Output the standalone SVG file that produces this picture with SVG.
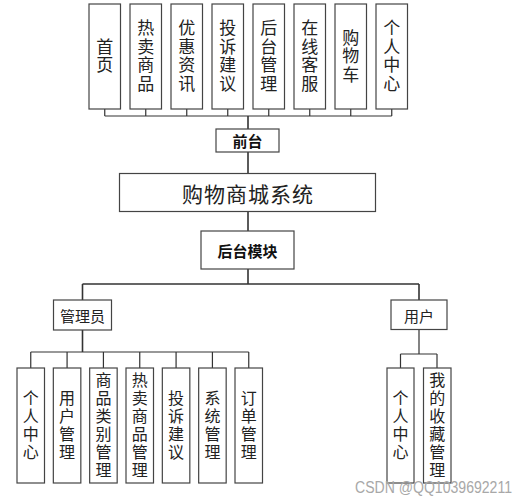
<svg xmlns="http://www.w3.org/2000/svg" width="524" height="500" viewBox="0 0 524 500">
<style>
.box{fill:#fff;stroke:#444;stroke-width:1.2}
.ln{fill:none;stroke:#333;stroke-width:1.2}
.v{font-family:"Noto Sans CJK SC","Noto Sans",sans-serif;font-size:17px;fill:#222;text-anchor:middle;writing-mode:vertical-rl;letter-spacing:1.5px}
.vb{font-family:"Noto Sans CJK SC","Noto Sans",sans-serif;font-size:16px;fill:#222;text-anchor:middle;writing-mode:vertical-rl;letter-spacing:2px}
.b{font-family:"Noto Sans CJK SC","Noto Sans",sans-serif;font-size:15px;font-weight:bold;fill:#111;text-anchor:middle;dominant-baseline:central}
.m{font-family:"Noto Sans CJK SC","Noto Sans",sans-serif;font-size:15px;fill:#222;text-anchor:middle;dominant-baseline:central}
.t{font-family:"Noto Sans CJK SC","Noto Sans",sans-serif;font-size:21px;fill:#222;text-anchor:middle;dominant-baseline:central;letter-spacing:1px}
</style>
<rect width="524" height="500" fill="#fff"/>
<g id="connectors">
<path class="ln" d="M104.75 109V116M145.75 109V116M186.75 109V116M227.75 109V116M268.75 109V116M309.75 109V116M350.75 109V116M391.75 109V116M104.75 116H391.75"/>
<path class="ln" d="M248 116V129M248 152V173M248 212V231M248 269V284M82.5 284H419M82.5 284V300M419 284V300" style="stroke-width:1.6"/>
<path class="ln" d="M30.75 352H248.75M30.75 352V368M67.08 352V368M103.42 352V368M139.75 352V368M176.08 352V368M212.42 352V368M248.75 352V368"/>
<path class="ln" d="M82.5 330V352" style="stroke-width:1.6"/>
<path class="ln" d="M419 330V354M400.5 354H437M400.5 354V368M437 354V368"/>
</g>
<g id="n_shouye"><rect class="box" x="89" y="4" width="31.5" height="105"/><text class="v" x="104.75" y="56.5">首页</text></g>
<g id="n_rmsp"><rect class="box" x="130" y="4" width="31.5" height="105"/><text class="v" x="145.75" y="56.5">热卖商品</text></g>
<g id="n_yhzx"><rect class="box" x="171" y="4" width="31.5" height="105"/><text class="v" x="186.75" y="56.5">优惠资讯</text></g>
<g id="n_tsjy"><rect class="box" x="212" y="4" width="31.5" height="105"/><text class="v" x="227.75" y="56.5">投诉建议</text></g>
<g id="n_htgl"><rect class="box" x="253" y="4" width="31.5" height="105"/><text class="v" x="268.75" y="56.5">后台管理</text></g>
<g id="n_zxkf"><rect class="box" x="294" y="4" width="31.5" height="105"/><text class="v" x="309.75" y="56.5">在线客服</text></g>
<g id="n_gwc"><rect class="box" x="335" y="4" width="31.5" height="105"/><text class="v" x="350.75" y="56.5">购物车</text></g>
<g id="n_grzx_top"><rect class="box" x="376" y="4" width="31.5" height="105"/><text class="v" x="391.75" y="56.5">个人中心</text></g>
<g id="n_qiantai"><rect class="box" x="216" y="129" width="63" height="23"/><text class="b" x="247.5" y="140.5">前台</text></g>
<g id="n_system"><rect class="box" x="119.5" y="173.5" width="256" height="38"/><text class="t" x="248" y="192.5">购物商城系统</text></g>
<g id="n_houtai"><rect class="box" x="201" y="231" width="93" height="38"/><text class="b" x="247.5" y="250">后台模块</text></g>
<g id="n_admin"><rect class="box" x="53.5" y="300" width="58" height="30"/><text class="m" x="82.5" y="315">管理员</text></g>
<g id="n_user"><rect class="box" x="391" y="300" width="56" height="29.5"/><text class="m" x="419" y="315">用户</text></g>
<g id="n_a1"><rect class="box" x="17" y="368" width="27.5" height="115"/><text class="vb" x="30.75" y="425.5">个人中心</text></g>
<g id="n_a2"><rect class="box" x="53.33" y="368" width="27.5" height="115"/><text class="vb" x="67.08" y="425.5">用户管理</text></g>
<g id="n_a3"><rect class="box" x="89.67" y="368" width="27.5" height="115"/><text class="vb" x="103.42" y="425.5">商品类别管理</text></g>
<g id="n_a4"><rect class="box" x="126" y="368" width="27.5" height="115"/><text class="vb" x="139.75" y="425.5">热卖商品管理</text></g>
<g id="n_a5"><rect class="box" x="162.33" y="368" width="27.5" height="115"/><text class="vb" x="176.08" y="425.5">投诉建议</text></g>
<g id="n_a6"><rect class="box" x="198.67" y="368" width="27.5" height="115"/><text class="vb" x="212.42" y="425.5">系统管理</text></g>
<g id="n_a7"><rect class="box" x="235" y="368" width="27.5" height="115"/><text class="vb" x="248.75" y="425.5">订单管理</text></g>
<g id="n_u1"><rect class="box" x="387" y="368" width="27" height="115"/><text class="vb" x="400.5" y="425.5">个人中心</text></g>
<g id="n_u2"><rect class="box" x="423.5" y="368" width="27.5" height="115"/><text class="vb" x="437.25" y="425.5">我的收藏管理</text></g>
<text x="355" y="493" font-family="Liberation Sans, Arial, sans-serif" font-size="16" fill="#a8a8a8" textLength="157" lengthAdjust="spacingAndGlyphs">CSDN @QQ1039692211</text>
</svg>
